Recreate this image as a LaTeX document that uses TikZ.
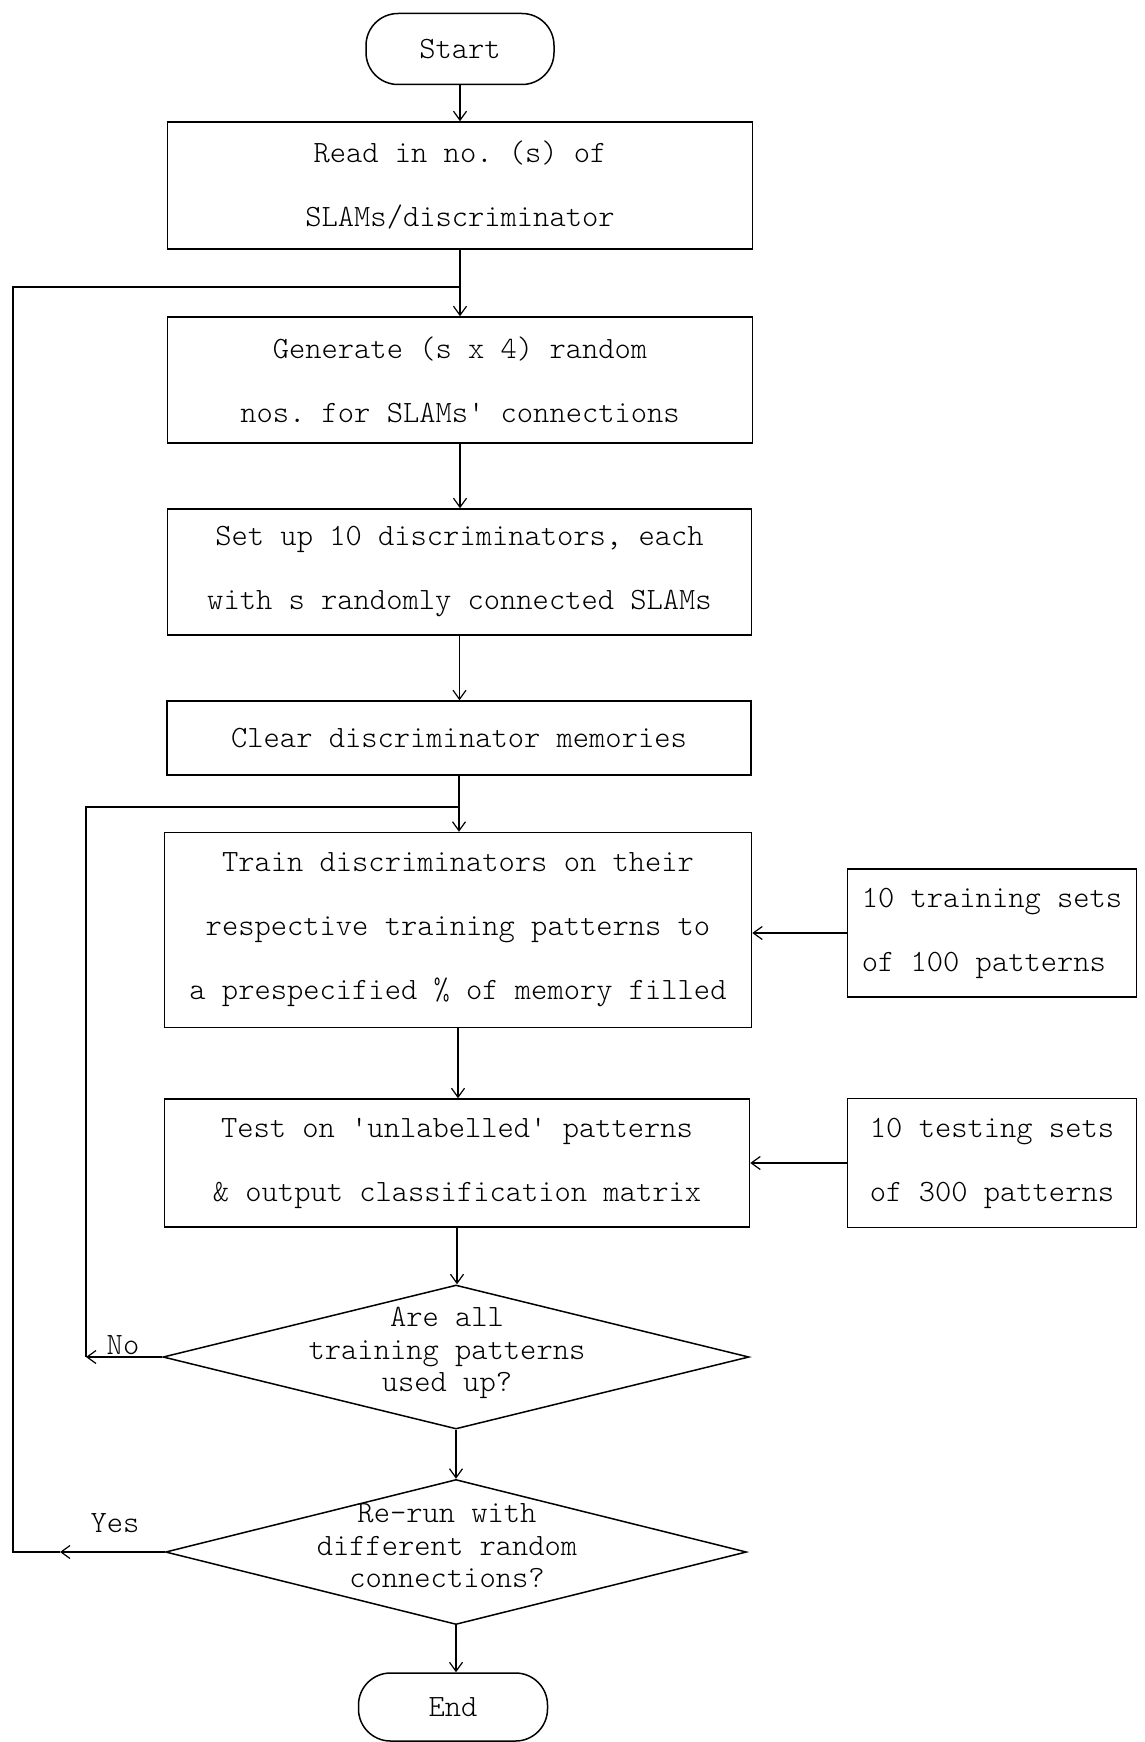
\documentclass[tikz,border=0pt]{standalone}
\usepackage{fontspec}
\setmonofont{Latin Modern Mono Light}
\usetikzlibrary{arrows.meta,shapes.geometric}
\begin{document}
\begin{tikzpicture}[x=1pt,y=-1pt,
  every node/.style={font=\ttfamily\fontsize{31}{64}\selectfont},
  box/.style={draw, line width=1.5pt, align=center, inner sep=0pt},
  term/.style={draw, line width=1.5pt, rounded corners=32pt, inner sep=0pt},
  dia/.style={draw, diamond, line width=1.5pt, inner sep=0pt},
  dtext/.style={align=center, font=\ttfamily\fontsize{31}{32.5}\selectfont},
  flow/.style={line width=1.2pt, -{Straight Barb[length=9pt,width=13pt,line width=1.2pt]}},
  plain/.style={line width=1.2pt}]
\fill[white] (0,0) rectangle (1145,1742);
\useasboundingbox (0,0) rectangle (1145,1742);

\node[term, minimum width=188, minimum height=71] (start) at (460,49) {Start};
\node[box, minimum width=585, minimum height=127] (read) at (460,185.5) {Read in no. (s) of\\SLAMs/discriminator};
\node[box, minimum width=585, minimum height=126] (gen) at (460,380) {Generate (s x 4) random\\nos. for SLAMs' connections};
\node[box, minimum width=584, minimum height=126] (setup) at (459.5,572) {Set up 10 discriminators, each\\with s randomly connected SLAMs};
\node[box, minimum width=584, minimum height=74] (clear) at (459,738) {Clear discriminator memories};
\node[box, minimum width=587, minimum height=195] (train) at (458,930) {Train discriminators on their\\respective training patterns to\\a prespecified \% of memory filled};
\node[box, align=left, minimum width=289, minimum height=128] (trainsets) at (992,933) {10 training sets\\of 100 patterns};
\node[box, minimum width=585, minimum height=128] (test) at (457,1163) {Test on 'unlabelled' patterns\\\& output classification matrix};
\node[box, align=left, minimum width=289, minimum height=129] (testsets) at (992,1163) {10 testing sets\\of 300 patterns};
\node[dia, minimum width=586, minimum height=144] (d1) at (456,1357) {};
\node[dtext] (d1t) at (447,1353) {Are all\\training patterns\\used up?};
\node[dia, minimum width=581, minimum height=145] (d2) at (456,1552) {};
\node[dtext] (d2t) at (447,1546) {Re-run with\\different random\\connections?};
\node[term, minimum width=189, minimum height=68] (end) at (453,1707) {End};
\node (nolab) at (123,1345) {No};
\node (yeslab) at (115,1523) {Yes};

\coordinate (j1) at (460,287);
\coordinate (j2) at (459,807);
\coordinate (nocorner) at (86,1357);
\coordinate (yestip) at (60,1552);
\coordinate (yescorner) at (13,1552);

\draw[flow] (start.south) -- (start.south |- read.north);
\draw[plain] (read.south) -- (j1);
\draw[flow] (j1) -- (j1 |- gen.north);
\draw[flow] (gen.south) -- (gen.south |- setup.north);
\draw[flow] (setup.south) -- (setup.south |- clear.north);
\draw[plain] (clear.south) -- (j2);
\draw[flow] (j2) -- (j2 |- train.north);
\draw[flow] (trainsets.west) -- (trainsets.west -| train.east);
\draw[flow] (train.south) -- (train.south |- test.north);
\draw[flow] (testsets.west) -- (testsets.west -| test.east);
\draw[flow] (test.south) -- (test.south |- d1.north);
\draw[flow] (d1.south) -- (d1.south |- d2.north);
\draw[flow] (d2.south) -- (d2.south |- end.north);
\draw[flow] (d1.west) -- (nocorner);
\draw[plain] (nocorner) |- (j2);
\draw[flow] (d2.west) -- (yestip);
\draw[plain] (yestip) -- (yescorner) |- (j1);
\end{tikzpicture}
\end{document}
